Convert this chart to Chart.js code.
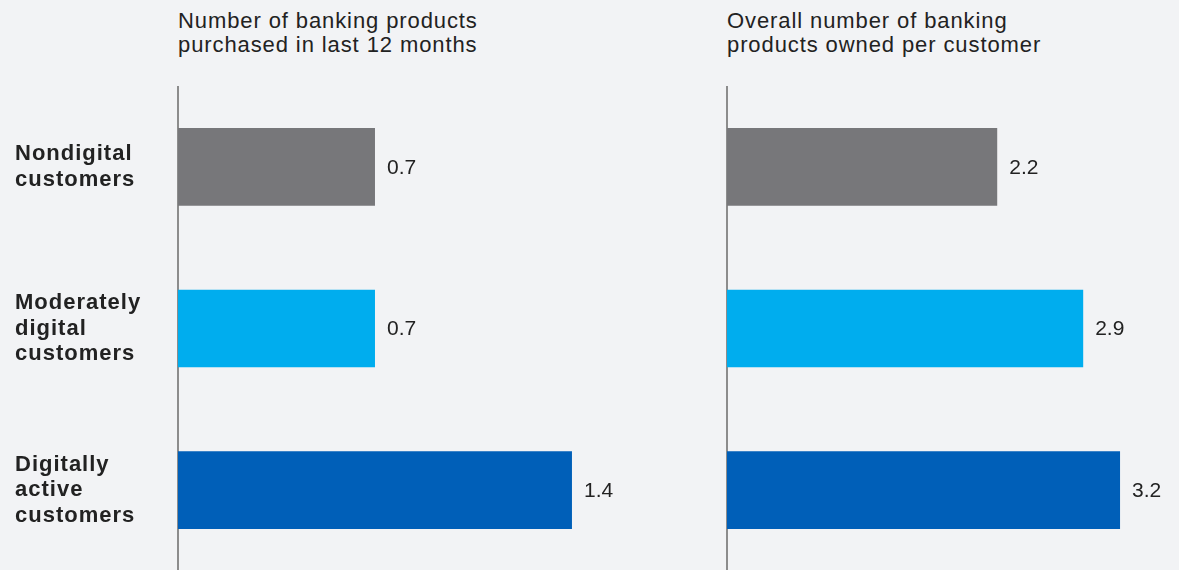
<!DOCTYPE html>
<html>
<head>
<meta charset="utf-8">
<script src="https://cdn.jsdelivr.net/npm/chart.js@4.4.0/dist/chart.umd.min.js"></script>
<style>
  html, body { margin: 0; padding: 0; }
  body {
    width: 1179px; height: 570px; overflow: hidden; position: relative;
    background: #f2f3f5;
    font-family: "Liberation Sans", Arial, sans-serif;
  }
  .titulo {
    position: absolute; top: 9px;
    font-size: 22px; line-height: 24px; color: #222;
    letter-spacing: 0.9px; white-space: nowrap;
  }
  canvas { position: absolute; top: 86px; }
</style>
</head>
<body>
<div class="titulo" style="left:178px">Number of banking products<br>purchased in last 12 months</div>
<div class="titulo" style="left:727px">Overall number of banking<br>products owned per customer</div>
<canvas id="graficoCompras" width="700" height="485" style="left:0"></canvas>
<canvas id="graficoPosse" width="479" height="485" style="left:700px"></canvas>
<script>
// categorias e valores
const categorias = [
  ["Nondigital", "customers"],
  ["Moderately", "digital", "customers"],
  ["Digitally", "active", "customers"],
];
const comprados12Meses = [0.7, 0.7, 1.4];
const produtosPorCliente = [2.2, 2.9, 3.2];
const cores = ["#77777a", "#00adee", "#005fb8"];

// escreve o valor ao lado de cada barra
const rotulosValor = {
  id: "rotulosValor",
  afterDatasetsDraw(chart) {
    const ctx = chart.ctx;
    const meta = chart.getDatasetMeta(0);
    const dados = chart.data.datasets[0].data;
    ctx.save();
    ctx.letterSpacing = "0px";
    ctx.font = '21px "Liberation Sans", Arial, sans-serif';
    ctx.fillStyle = "#222";
    ctx.textBaseline = "middle";
    ctx.textAlign = "left";
    meta.data.forEach((barra, i) => {
      ctx.fillText(dados[i].toFixed(1), barra.x + 12, barra.y + 1);
    });
    ctx.restore();
  },
};

// rótulos do eixo um pouco mais espaçados
const espacoLetras = {
  id: "espacoLetras",
  beforeDraw(chart) {
    chart.ctx.letterSpacing = "1px";
  },
};

function criarGrafico(id, valores, max, larguraEixo, mostrarRotulos) {
  const ctx = document.getElementById(id).getContext("2d");
  return new Chart(ctx, {
    type: "bar",
    data: {
      labels: categorias,
      datasets: [
        {
          data: valores,
          backgroundColor: cores,
          borderWidth: 0,
          categoryPercentage: 1,
          barPercentage: 0.48,
        },
      ],
    },
    options: {
      indexAxis: "y",
      responsive: false,
      animation: false,
      layout: { padding: { left: mostrarRotulos ? 15 : 0, right: 0, top: 0, bottom: 0 } },
      plugins: {
        legend: { display: false },
        tooltip: { enabled: false },
      },
      scales: {
        x: {
          display: false,
          min: 0,
          max: max,
        },
        y: {
          afterFit: (eixo) => {
            eixo.width = larguraEixo;
            eixo.paddingTop = 0;
            eixo.paddingBottom = 0;
          },
          grid: { display: false },
          border: { display: true, color: "#8c8c8c", width: 2 },
          ticks: {
            display: mostrarRotulos,
            crossAlign: "far",
            padding: 0,
            color: "#222",
            font: { family: '"Liberation Sans", Arial, sans-serif', size: 22, weight: "bold", lineHeight: 1.15 },
          },
        },
      },
    },
    plugins: [espacoLetras, rotulosValor],
  });
}

criarGrafico("graficoCompras", comprados12Meses, 1.855, 163, true);
criarGrafico("graficoPosse", produtosPorCliente, 3.68, 27, false);
</script>
</body>
</html>
